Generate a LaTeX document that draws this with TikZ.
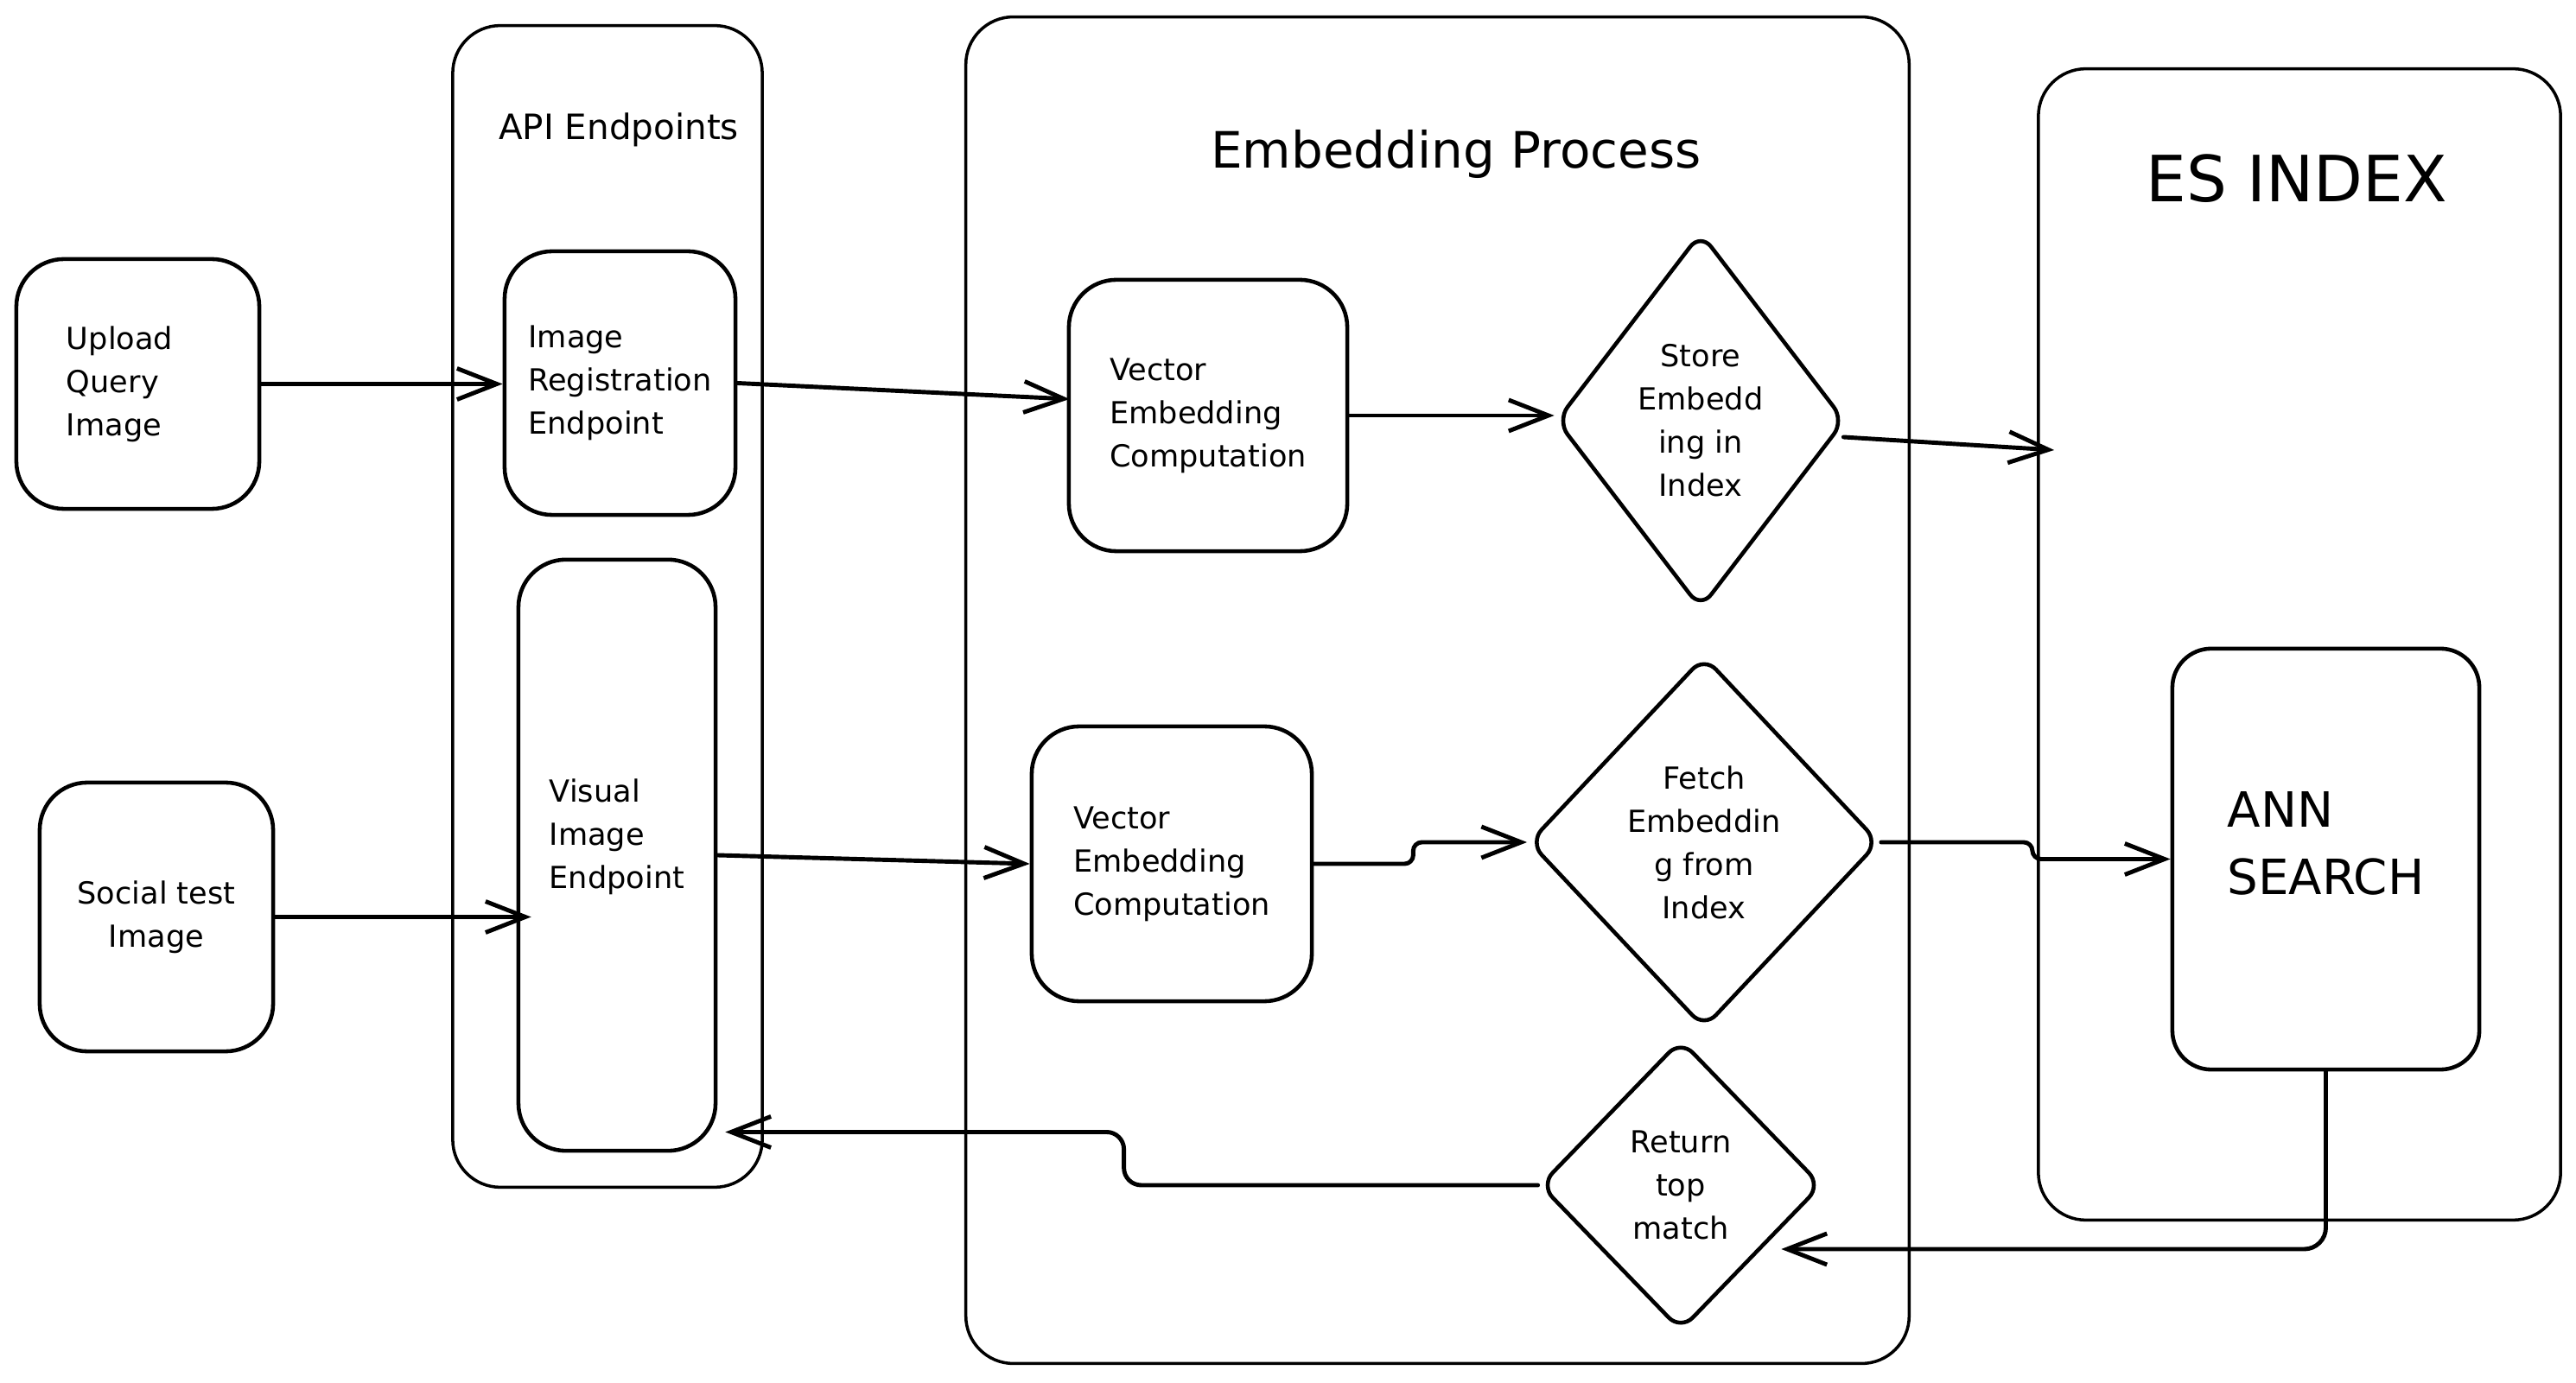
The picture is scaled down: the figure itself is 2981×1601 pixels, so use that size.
\documentclass[tikz,border=0pt]{standalone}
\usepackage{fontspec}
\setmainfont{DejaVu Sans}
\usetikzlibrary{shapes.geometric,arrows.meta,calc}
\begin{document}
\begin{tikzpicture}[x=0.01cm,y=-0.01cm,
  container/.style={draw, rounded corners=0.55cm, line width=1pt, inner sep=0pt},
  box/.style={draw, rounded corners=0.55cm, line width=1.3pt, inner sep=0pt, align=left, font=\fontsize{10}{14.2}\selectfont},
  dia/.style={draw, diamond, rounded corners=0.2cm, line width=1.3pt, inner sep=0pt, align=center, font=\fontsize{10}{14.2}\selectfont},
  conn/.style={line width=1.4pt, line cap=round, line join=round, -{Straight Barb[length=4.6mm,width=3.6mm,line width=1.4pt]}},
  ttl/.style={inner sep=0pt}
]
\fill[white] (0,0) rectangle (2981,1601);
\useasboundingbox (0,0) rectangle (2981,1601);

% containers
\node[container, minimum width=3.58cm, minimum height=13.44cm] (api) at (703,702) {};
\node[container, minimum width=10.91cm, minimum height=15.58cm] (emb) at (1663.5,799) {};
\node[container, minimum width=6.04cm, minimum height=13.32cm] (es) at (2661,746) {};

% titles
\node[ttl, font=\fontsize{11.5}{14}\selectfont] (apitxt) at (716,150) {API Endpoints};
\node[ttl, font=\fontsize{16.5}{20}\selectfont] (embtxt) at (1685,179) {Embedding Process};
\node[ttl, font=\fontsize{21}{25}\selectfont] (estxt) at (2658,207) {ES INDEX};

% boxes
\node[box, inner xsep=0.58cm, text width=1.65cm, minimum height=2.89cm] (upload) at (159.5,444.5) {Upload\\Query\\Image};
\node[box, align=center, minimum width=2.70cm, minimum height=3.11cm] (social) at (181,1061.5) {Social test\\Image};
\node[box, minimum width=2.67cm, minimum height=3.05cm] (imgreg) at (717.5,443.5) {Image\\Registration\\Endpoint};
\node[box, minimum width=2.28cm, minimum height=6.84cm] (visual) at (714,990) {Visual\\Image\\Endpoint\\\mbox{}};
\node[box, minimum width=3.22cm, minimum height=3.14cm] (vec1) at (1398,481) {Vector\\Embedding\\Computation};
\node[box, minimum width=3.24cm, minimum height=3.18cm] (vec2) at (1356,1000) {Vector\\Embedding\\Computation};
\node[box, rounded corners=0.45cm, font=\fontsize{16}{22}\selectfont, minimum width=3.55cm, minimum height=4.87cm] (ann) at (2691.5,994.5) {ANN\\SEARCH\\[-0.4cm]\mbox{}};

% diamonds
\node[dia, shape aspect=0.8, minimum width=3.34cm, minimum height=4.36cm] (store) at (1968,487) {Store\\Embedd\\ing in\\Index};
\node[dia, shape aspect=0.95, minimum width=4.05cm, minimum height=4.31cm] (fetch) at (1972,975) {Fetch\\Embeddin\\g from\\Index};
\node[dia, shape aspect=0.97, minimum width=3.26cm, minimum height=3.37cm] (ret) at (1945,1372) {Return\\top\\match};

% connectors
\draw[conn] (upload.east) -- (upload.east -| imgreg.west);
\draw[conn] (imgreg.east) -- ($(vec1.west)+(3,-19)$);
\draw[conn] (vec1.east) -- (vec1.east -| store.west);
\draw[conn] ($(store.east)+(-4,19)$) -- ($(es.west)+(20,-225)$);
\draw[conn, shorten >=-0.17cm] (social.east) -- (social.east -| visual.west);
\draw[conn] (visual.east) -- (vec2.west);
\draw[conn, rounded corners=0.1cm] (vec2.east) -- ++(115,0) |- (fetch.west);
\draw[conn, rounded corners=0.1cm] (fetch.east) -- ++(175,0) |- (ann.west);
\draw[conn, rounded corners=0.25cm] (ann.south) |- ($(ret.east)+(-49,74)$);
\draw[conn, rounded corners=0.2cm] (ret.west) -- ++(-479,0) |- ($(visual.south east)+(9,-24)$);
\end{tikzpicture}
\end{document}
